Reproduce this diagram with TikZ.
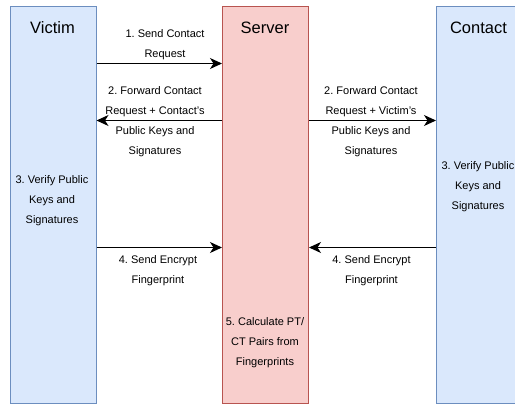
\documentclass[tikz,border=0pt]{standalone}
\usepackage{fontspec}
\setmainfont{Liberation Sans}
\usetikzlibrary{arrows.meta}
\definecolor{bluefill}{HTML}{DAE8FC}
\definecolor{bluedraw}{HTML}{6C8EBF}
\definecolor{redfill}{HTML}{F8CECC}
\definecolor{reddraw}{HTML}{B85450}
\tikzset{
  lane/.style={draw, line width=1pt, minimum width=86pt, minimum height=396.5pt, anchor=north west, inner sep=0pt},
  bluelane/.style={lane, fill=bluefill, draw=bluedraw},
  redlane/.style={lane, fill=redfill, draw=reddraw},
  title/.style={font=\fontsize{16.5}{20}\selectfont, anchor=center, inner sep=0pt},
  lbl/.style={font=\fontsize{11}{20}\selectfont\frenchspacing, align=center, inner sep=0pt},
  arr/.style={line width=1.3pt, -{Stealth[length=12pt, width=11pt, inset=3.5pt]}}
}
\begin{document}
\frenchspacing
\begin{tikzpicture}[x=1pt, y=-1pt]
\useasboundingbox (0,0) rectangle (515,404);
\node[bluelane] (victim) at (9.5,6.5) {};
\node[redlane] (server) at (222,6.5) {};
\node[bluelane] (contact) at (436,6.5) {};
\node[title] (tv) at (52.5,28) {Victim};
\node[title] (ts) at (265,28) {Server};
\node[title] (tc) at (478.5,28) {Contact};
\coordinate (y1) at (0,63.5);
\coordinate (y2) at (0,120.5);
\coordinate (y4) at (0,247.5);
\draw[arr] (victim.east |- y1) -- (server.west |- y1);
\draw[arr] (server.west |- y2) -- (victim.east |- y2);
\draw[arr] (server.east |- y2) -- (contact.west |- y2);
\draw[arr] (victim.east |- y4) -- (server.west |- y4);
\draw[arr] (contact.west |- y4) -- (server.east |- y4);
\node[lbl] (l1) at (165,44.5) {1. Send Contact\\Request};
\node[lbl] (l2a) at (155,121.5) {2. Forward Contact\\Request + Contact's\\Public Keys and\\Signatures};
\node[lbl] (l2b) at (371,121.5) {2. Forward Contact\\Request + Victim's\\Public Keys and\\Signatures};
\node[lbl] (l3a) at (52,201) {3. Verify Public\\Keys and\\Signatures};
\node[lbl] (l3b) at (478,186.5) {3. Verify Public\\Keys and\\Signatures};
\node[lbl] (l4a) at (158,271) {4. Send Encrypt\\Fingerprint};
\node[lbl] (l4b) at (371.5,271) {4. Send Encrypt\\Fingerprint};
\node[lbl] (l5) at (265,342.5) {5. Calculate PT/\\CT Pairs from\\Fingerprints};
\end{tikzpicture}
\end{document}
